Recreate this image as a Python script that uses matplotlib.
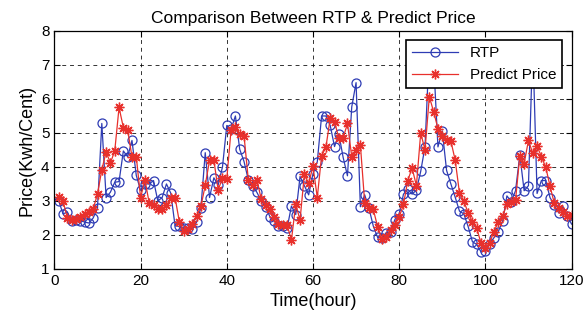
import numpy as np
import matplotlib
matplotlib.use("Agg")
import matplotlib.pyplot as plt

plt.rcParams['font.family'] = ['Liberation Sans', 'DejaVu Sans']

# -----------------------------
# DATA
# -----------------------------
hours = np.arange(1, 121)

rtp = [3.00, 2.62, 2.67, 2.42, 2.44, 2.42, 2.38, 2.35, 2.50, 2.80,
       5.28, 3.10, 3.26, 3.55, 3.57, 4.47, 4.30, 4.78, 3.75, 3.31,
       3.50, 3.50, 3.60, 3.00, 3.10, 3.50, 3.23, 2.27, 2.25, 2.20,
       2.20, 2.18, 2.38, 2.80, 4.42, 3.10, 3.68, 3.47, 4.00, 5.22,
       5.12, 5.50, 4.52, 4.16, 3.62, 3.45, 3.25, 3.00, 2.83, 2.54,
       2.42, 2.27, 2.25, 2.20, 2.85, 2.60, 3.72, 3.45, 3.18, 3.80,
       4.15, 5.50, 5.50, 5.22, 4.60, 4.97, 4.28, 3.74, 5.77, 6.48,
       2.83, 3.18, 2.78, 2.26, 1.93, 1.90, 2.07, 2.10, 2.45, 2.62,
       3.20, 3.34, 3.20, 3.32, 3.87, 4.60, 7.50, 7.10, 4.59, 5.06,
       3.90, 3.50, 3.11, 2.70, 2.62, 2.25, 1.80, 1.72, 1.50, 1.53,
       1.74, 1.92, 2.10, 2.40, 3.15, 2.98, 3.30, 4.35, 3.30, 3.45,
       7.60, 3.22, 3.60, 3.60, 3.10, 2.88, 2.65, 2.84, 2.57, 2.32]

predict = [3.13, 3.00, 2.50, 2.45, 2.47, 2.52, 2.62, 2.67, 2.77, 3.20,
           3.92, 4.44, 4.12, 4.47, 5.75, 5.16, 5.08, 4.30, 4.30, 3.10,
           3.62, 2.94, 2.87, 2.77, 2.77, 2.87, 3.08, 3.10, 2.38, 2.13,
           2.18, 2.33, 2.55, 2.84, 3.46, 4.20, 4.20, 3.32, 3.68, 3.65,
           5.10, 5.18, 4.98, 4.92, 3.62, 3.48, 3.62, 3.05, 2.87, 2.77,
           2.52, 2.32, 2.30, 2.29, 1.85, 2.90, 2.44, 3.78, 3.52, 4.02,
           3.10, 4.33, 4.58, 5.43, 5.33, 4.85, 4.85, 5.28, 4.30, 4.50,
           4.65, 2.95, 2.78, 2.75, 2.24, 1.89, 1.93, 2.15, 2.30, 2.52,
           2.90, 3.60, 3.97, 3.45, 5.00, 4.50, 6.07, 5.62, 5.13, 4.90,
           4.80, 4.76, 4.20, 3.23, 3.00, 2.65, 2.38, 2.20, 1.75, 1.63,
           1.77, 2.10, 2.38, 2.55, 2.90, 2.96, 3.02, 4.33, 4.10, 4.78,
           4.40, 4.62, 4.30, 4.00, 3.44, 2.93, 2.80, 2.68, 2.55, 2.58]

xticks = [0, 20, 40, 60, 80, 100, 120]
yticks = [1, 2, 3, 4, 5, 6, 7, 8]

# -----------------------------
# PLOT
# -----------------------------
fig = plt.figure(figsize=(5.85, 3.26), dpi=100)
ax = fig.add_axes([0.093, 0.175, 0.884, 0.730])

blue = '#2e3cb4'
red = '#e8302c'

ax.plot(hours, rtp, color=blue, lw=0.9, marker='o', ms=6.5,
        mfc='none', mec=blue, mew=0.9, label='RTP')
# MATLAB style asterisk marker (8 arms)
ax.plot(hours, predict, color=red, lw=0.9, marker=(8, 2, 0), ms=7,
        mec=red, mew=1.0, label='Predict Price')

ax.set_xlim(0, 120)
ax.set_ylim(1, 8)
ax.set_xticks(xticks)
ax.set_yticks(yticks)
ax.tick_params(direction='in', top=True, right=True, labelsize=11, length=4)
ax.grid(True, color='black', ls=(0, (4, 4)), lw=0.7, alpha=0.8)

for s in ax.spines.values():
    s.set_linewidth(0.9)

ax.set_title('Comparison Between RTP & Predict Price', fontsize=12.5, pad=6)
ax.set_xlabel('Time(hour)', fontsize=13)
ax.set_ylabel('Price(Kwh/Cent)', fontsize=13, labelpad=4)

leg = ax.legend(loc='upper right', fontsize=11, fancybox=False,
                framealpha=1, edgecolor='black', borderpad=0.4,
                handlelength=3.0, borderaxespad=0.6)
leg.get_frame().set_linewidth(1.2)

plt.savefig("out.png", dpi=100)
